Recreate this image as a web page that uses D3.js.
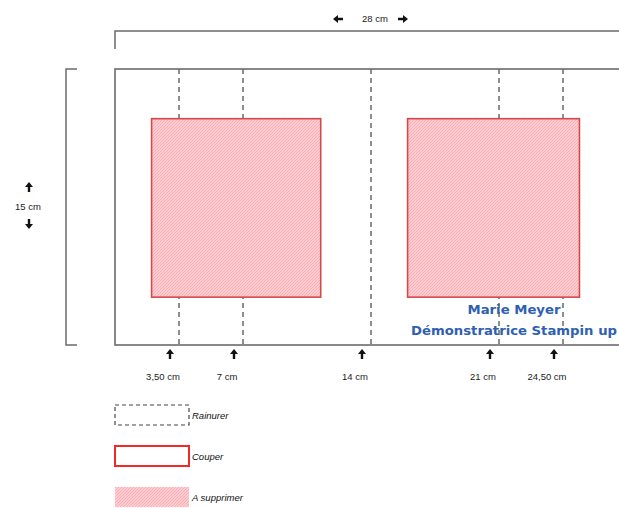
<!DOCTYPE html>
<html><head><meta charset="utf-8">
<script src="https://cdn.jsdelivr.net/npm/d3@7"></script>
<style>body{margin:0;background:#fff}svg{display:block}</style>
</head><body>
<svg id="c" width="619" height="508"></svg>
<script>
// ---- data ----
const sheetWidth = 28;          // cm
const sheetHeight = 15;         // cm
const widthLabel = "28 cm";
const heightLabel = "15 cm";
const scoreLines = [3.5, 7, 14, 21, 24.5];
const scoreLabels = ["3,50 cm", "7 cm", "14 cm", "21  cm", "24,50 cm"];
const windowStart = [2, 16];
const windowEnd = [11.25, 25.4];
const windowTop = [2.7, 2.7];
const windowBottom = [12.4, 12.4];
const legendItems = ["Rainurer", "Couper", "A supprimer"];
const signature = ["Marie Meyer", "Démonstratrice Stampin up"];

(function () {
// ---- scales ----
const x = d3.scaleLinear().domain([0, sheetWidth]).range([115, 627]);
const y = d3.scaleLinear().domain([0, sheetHeight]).range([69, 345]);

const svg = d3.select("#c");
const defs = svg.append("defs");
const pat = defs.append("pattern").attr("id", "hatch").attr("patternUnits", "userSpaceOnUse")
  .attr("width", 3).attr("height", 3);
pat.append("rect").attr("width", 3).attr("height", 3).attr("fill", "#ffcdd1");
pat.append("path").attr("d", "M0,3 L3,0 M-1,1 L1,-1 M2,4 L4,2").attr("stroke", "#f8aab1").attr("stroke-width", 0.9);

const font = "'Liberation Sans', Arial, sans-serif";
const grey = "#6b6b6b";

function upArrow(g, cx, cy) {
  g.append("path").attr("d", `M${cx},${cy-5} L${cx+4},${cy} L${cx+1.2},${cy} L${cx+1.2},${cy+5} L${cx-1.2},${cy+5} L${cx-1.2},${cy} L${cx-4},${cy} Z`).attr("fill", "#111");
}
function downArrow(g, cx, cy) {
  g.append("path").attr("d", `M${cx},${cy+5} L${cx+4},${cy} L${cx+1.2},${cy} L${cx+1.2},${cy-5} L${cx-1.2},${cy-5} L${cx-1.2},${cy} L${cx-4},${cy} Z`).attr("fill", "#111");
}
function hArrow(g, cx, cy, dir) {
  const s = dir;
  g.append("path").attr("d", `M${cx+5*s},${cy} L${cx},${cy-4} L${cx},${cy-1.2} L${cx-5*s},${cy-1.2} L${cx-5*s},${cy+1.2} L${cx},${cy+1.2} L${cx},${cy+4} Z`).attr("fill", "#111");
}

// ---- top dimension bracket ----
const topG = svg.append("g");
topG.append("path").attr("d", `M${x(0)},49 V31 H${x(sheetWidth)}`).attr("fill", "none").attr("stroke", grey).attr("stroke-width", 1.5);
const midX = x(sheetWidth / 2);
topG.append("text").attr("x", midX + 4).attr("y", 22).attr("text-anchor", "middle").attr("font-family", font).attr("font-size", 9.5).attr("fill", "#222").text(widthLabel);
hArrow(topG, midX - 33, 19, -1);
hArrow(topG, midX + 32, 19, 1);

// ---- left dimension bracket ----
const leftG = svg.append("g");
leftG.append("path").attr("d", `M77,${y(0)} H66 V${y(sheetHeight)} H77`).attr("fill", "none").attr("stroke", grey).attr("stroke-width", 1.5);
const midY = y(sheetHeight / 2);
leftG.append("text").attr("x", 28).attr("y", midY + 3).attr("text-anchor", "middle").attr("font-family", font).attr("font-size", 9.5).attr("fill", "#222").text(heightLabel);
upArrow(leftG, 29, midY - 20);
downArrow(leftG, 29, midY + 17);

// ---- score lines ----
svg.append("g").selectAll("line").data(scoreLines).join("line")
  .attr("x1", d => x(d)).attr("x2", d => x(d)).attr("y1", y(0)).attr("y2", y(sheetHeight))
  .attr("stroke", "#444").attr("stroke-width", 1.2).attr("stroke-dasharray", "5,4");

// ---- windows ----
svg.append("g").selectAll("rect").data(windowStart).join("rect")
  .attr("x", (d, i) => x(d)).attr("y", (d, i) => y(windowTop[i]))
  .attr("width", (d, i) => x(windowEnd[i]) - x(d))
  .attr("height", (d, i) => y(windowBottom[i]) - y(windowTop[i]))
  .attr("fill", "url(#hatch)").attr("stroke", "#d24a4a").attr("stroke-width", 1.6);

// ---- sheet border ----
svg.append("rect").attr("x", x(0)).attr("y", y(0)).attr("width", x(sheetWidth) - x(0)).attr("height", y(sheetHeight) - y(0))
  .attr("fill", "none").attr("stroke", grey).attr("stroke-width", 1.6);

// ---- signature ----
const sig = svg.append("g").attr("font-family", "'DejaVu Sans', sans-serif").attr("font-weight", "bold").attr("fill", "#2f5fb3").attr("font-size", 12.5).attr("text-anchor", "middle");
sig.selectAll("text").data(signature).join("text")
  .attr("x", 514).attr("y", (d, i) => 314 + i * 21).attr("textLength", (d, i) => i === 0 ? 93 : 206).attr("lengthAdjust", "spacingAndGlyphs").text(d => d);

// ---- bottom labels ----
const bot = svg.append("g");
scoreLines.forEach((v, i) => {
  upArrow(bot, x(v) - 9, 354);
  bot.append("text").attr("x", x(v) - 16).attr("y", 380).attr("text-anchor", "middle")
    .attr("font-family", font).attr("font-size", 9.5).attr("fill", "#222").text(scoreLabels[i]);
});

// ---- legend ----
const leg = svg.append("g");
const legY = [405, 446, 487];
legendItems.forEach((name, i) => {
  const r = leg.append("rect").attr("x", 115).attr("y", legY[i]).attr("width", 74).attr("height", 20);
  if (i === 0) r.attr("fill", "none").attr("stroke", "#444").attr("stroke-width", 1.2).attr("stroke-dasharray", "4,3");
  else if (i === 1) r.attr("fill", "#fff").attr("stroke", "#ee2a2a").attr("stroke-width", 2);
  else r.attr("fill", "url(#hatch)").attr("stroke", "none");
  leg.append("text").attr("x", 192).attr("y", legY[i] + 14).attr("font-family", font).attr("font-style", "italic")
    .attr("font-size", 9.5).attr("fill", "#111").text(name);
});
})();
</script>
</body></html>
